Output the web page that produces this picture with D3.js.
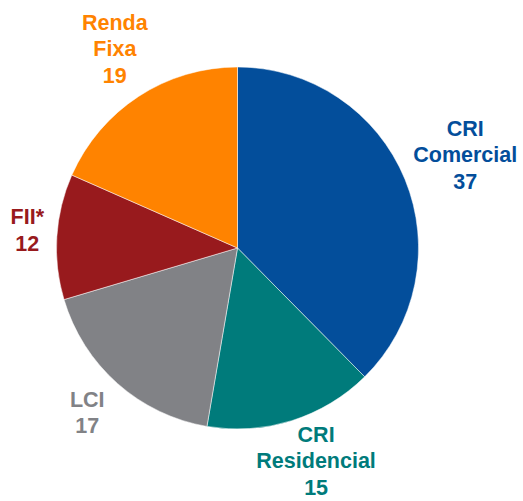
<!DOCTYPE html>
<html>
<head>
<meta charset="utf-8">
<script src="https://cdn.jsdelivr.net/npm/d3@7"></script>
<style>
  body { margin: 0; background: #fff; }
  text { font-family: "Liberation Sans", Arial, sans-serif; font-weight: bold; font-size: 21.5px; }
</style>
</head>
<body>
<div id="chart"></div>
<script>
// data
var categories = [["CRI", "Comercial"], ["CRI", "Residencial"], ["LCI"], ["FII*"], ["Renda", "Fixa"]];
var labels = [37, 15, 17, 12, 19];            // printed values
var shares = [37.6, 15.1, 17.7, 11.2, 18.4];  // slice sizes as drawn
var colors = ["#034e9b", "#007b7b", "#818286", "#981a1d", "#ff8300"];

// label placement (radius, angle shift in degrees)
var labelR = [246, 227, 223, 211, 234];
var labelShift = [0.1, -2.8, 0.8, 1.3, 1.5];

var width = 523, height = 501;
var radius = 181, cx = 237.5, cy = 248;
var lineH = 26.5;

var svg = d3.select("#chart")
    .append("svg")
    .attr("width", width)
    .attr("height", height);

var g = svg.append("g").attr("transform", "translate(" + cx + "," + cy + ")");

var data = shares.map(function (v, i) {
    return { name: categories[i], value: v, label: labels[i], color: colors[i], i: i };
});

var pie = d3.pie()
    .sort(null)
    .value(function (d) { return d.value; });

var path = d3.arc()
    .outerRadius(radius)
    .innerRadius(0);

var arcs = pie(data);

g.selectAll(".slice")
    .data(arcs)
    .enter().append("path")
    .attr("class", "slice")
    .attr("d", path)
    .attr("fill", function (d) { return d.data.color; })
    .attr("stroke", "#fff")
    .attr("stroke-width", 0.5);

g.selectAll(".lbl")
    .data(arcs)
    .enter().append("text")
    .attr("class", "lbl")
    .attr("text-anchor", "middle")
    .attr("fill", function (d) { return d.data.color; })
    .each(function (d) {
        var i = d.data.i;
        var a = (d.startAngle + d.endAngle) / 2 + labelShift[i] * Math.PI / 180;
        var r = labelR[i];
        var x = r * Math.sin(a), y = -r * Math.cos(a);
        var lines = d.data.name.concat([String(d.data.label)]);
        var y0 = y - (lines.length - 1) / 2 * lineH + 7.5;
        var t = d3.select(this);
        lines.forEach(function (s, k) {
            t.append("tspan")
                .attr("x", x)
                .attr("y", y0 + k * lineH)
                .text(s);
        });
    });
</script>
</body>
</html>
